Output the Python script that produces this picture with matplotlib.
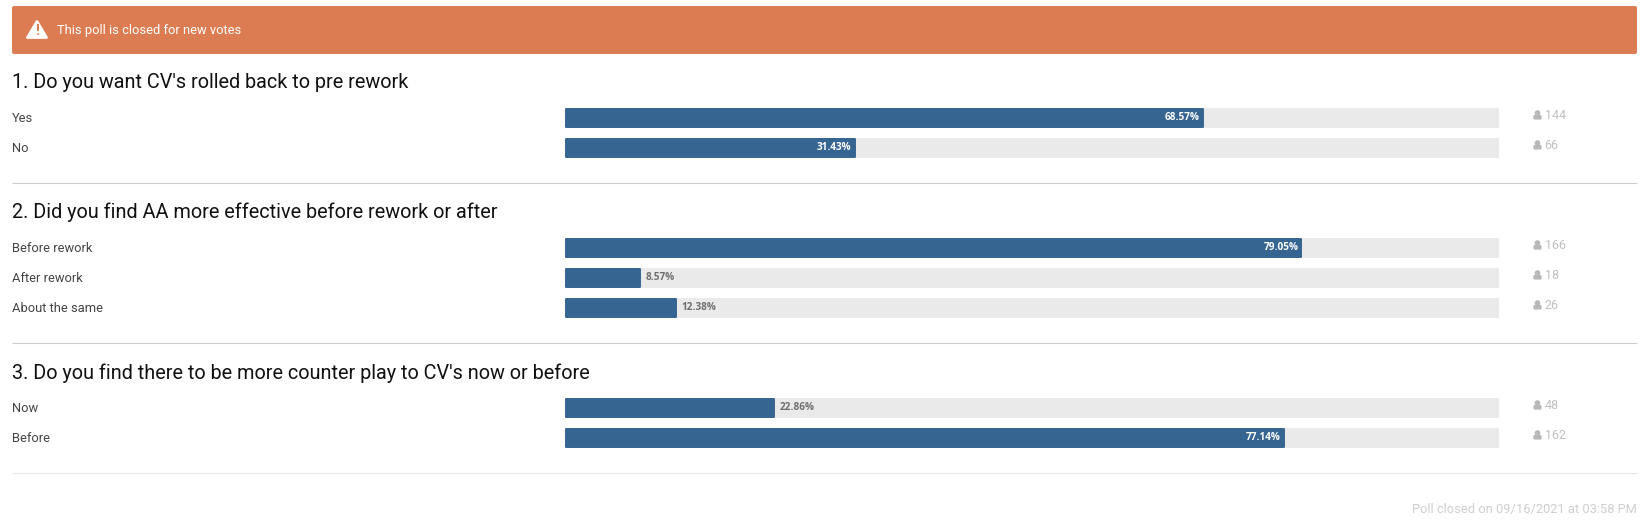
import matplotlib
matplotlib.use('Agg')
import matplotlib.pyplot as plt
from matplotlib.patches import FancyBboxPatch, Polygon, Circle

plt.rcParams['font.family'] = ['Roboto', 'DejaVu Sans']

W, H = 1647, 527

# poll data
preguntas = [
    "1. Do you want CV's rolled back to pre rework",
    "2. Did you find AA more effective before rework or after",
    "3. Do you find there to be more counter play to CV's now or before",
]
opciones = [
    ["Yes", "No"],
    ["Before rework", "After rework", "About the same"],
    ["Now", "Before"],
]
porcentajes = [
    [68.57, 31.43],
    [79.05, 8.57, 12.38],
    [22.86, 77.14],
]
votos = [
    [144, 66],
    [166, 18, 26],
    [48, 162],
]
aviso = "This poll is closed for new votes"
pie = "Poll closed on 09/16/2021 at 03:58 PM"

# layout in pixels of the screenshot
titulo_y = [82.5, 212.5, 373.5]
fila_y = [[118, 148], [248, 278, 308], [408, 438]]
linea_y = [182.5, 343, 473]
linea_color = ['#cccccc', '#cccccc', '#e8e8e8']
barra_x0, barra_x1 = 560, 1498
alto_barra = 20
inicio = 0.64  # bars and track start a little after the zero of the scale

AZUL = '#366591'
GRIS = '#eaeaea'

fig = plt.figure(figsize=(W / 100, H / 100), dpi=100, facecolor='white')

# background axes in pixel coords, origin at top left
bg = fig.add_axes([0, 0, 1, 1])
bg.set_xlim(0, W)
bg.set_ylim(H, 0)
bg.axis('off')

# banner
bg.add_patch(FancyBboxPatch((14, 8), 1621, 44, boxstyle='round,pad=2,rounding_size=2',
                            fc='#dc7c52', ec='none'))
bg.add_patch(Polygon([(37, 21.5), (46.5, 37.5), (27.5, 37.5)], closed=True, fc='white', ec='white',
                     lw=2, joinstyle='round'))
bg.text(37, 31, '!', color='#dc7c52', fontsize=10.5, fontweight='bold', ha='center', va='center')
bg.text(57, 30.5, aviso, color='white', fontsize=9.3, va='center')

# separators
for y, c in zip(linea_y, linea_color):
    bg.plot([12, 1637], [y, y], color=c, lw=0.8, solid_capstyle='butt')

# one axes for each question, x in percent
for q, pregunta in enumerate(preguntas):
    bg.text(12, titulo_y[q], pregunta, color='#111111', fontsize=14.3, va='center')

    filas = fila_y[q]
    top = filas[0] - alto_barra / 2
    bottom = filas[-1] + alto_barra / 2
    ax = fig.add_axes([barra_x0 / W, 1 - bottom / H, (barra_x1 - barra_x0) / W, (bottom - top) / H])
    ax.set_xlim(0, 100)
    ax.set_ylim(bottom, top)
    ax.axis('off')
    ax.patch.set_alpha(0)

    ax.barh(filas, [100 - inicio] * len(filas), left=inicio, height=alto_barra - 2, color=GRIS,
            edgecolor=GRIS, linewidth=1.4, joinstyle='round', clip_on=False)
    ancho = [p - inicio for p in porcentajes[q]]
    ax.barh(filas, ancho, left=inicio, height=alto_barra - 2, color=AZUL, edgecolor=AZUL,
            linewidth=1.4, joinstyle='round', clip_on=False)

    for y, nombre, p, n in zip(filas, opciones[q], porcentajes[q], votos[q]):
        bg.text(12, y, nombre, color='#444444', fontsize=9.3, va='center')
        etiqueta = f"{p:.2f}%"
        if p > 30:
            ax.annotate(etiqueta, (p, y), xytext=(-2.4, 0), textcoords='offset points', color='white',
                        fontsize=7.2, fontweight='bold', family='Open Sans', ha='right', va='center')
        else:
            ax.annotate(etiqueta, (p, y), xytext=(3.6, 0), textcoords='offset points', color='#6f6f6f',
                        fontsize=7.2, fontweight='bold', family='Open Sans', ha='left', va='center')

        # little user icon + vote count
        iy = y - 2.5
        bg.add_patch(Circle((1537.5, iy - 2.5), 2.8, fc='#b8b8b8', ec='none'))
        bg.add_patch(FancyBboxPatch((1534, iy), 7, 3.5, boxstyle='round,pad=0.6,rounding_size=1.4',
                                    fc='#b8b8b8', ec='none'))
        bg.text(1544.5, iy, str(n), color='#c0c0c0', fontsize=9, va='center')

bg.text(1637, 510, pie, color='#cfcfcf', fontsize=9.3, ha='right', va='center')

fig.savefig('out.png', dpi=100, facecolor='white')
